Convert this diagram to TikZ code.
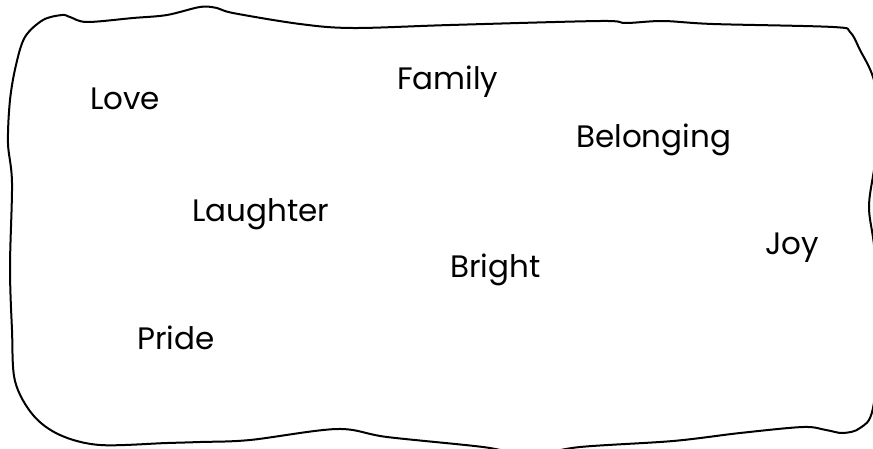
\documentclass[tikz,border=0pt]{standalone}
\usepackage{fontspec}
\setmainfont{Poppins}
\begin{document}
\begin{tikzpicture}[x=1pt,y=-1pt,
  word/.style={anchor=base west,inner sep=0pt,font=\fontsize{31}{33}\selectfont}]
\useasboundingbox (0,0) rectangle (873,448);
\fill[white] (0,0) rectangle (873,448);
\begin{scope}
\clip (0,0) rectangle (873,448);
\draw[line width=2pt,line join=round] plot[smooth cycle,tension=0.55] coordinates {
(10,100) (16,65) (25,37) (43,20) (62,15) (70,17) (87,22) (133,18) (167,15)
(200,7) (217,8) (233,13) (300,24) (353,28) (450,25) (600,21) (626,23) (663,21)
(713,24) (833,27) (850,32) (860,50) (873,77) (882,120) (874,170) (869,207)
(874,245) (882,320) (873,408) (860,428) (843,433) (826,430) (803,427) (740,433)
(673,441) (580,447) (530,455) (483,447) (387,437) (337,429) (250,440) (200,442)
(167,443) (100,445) (60,435) (33,415) (15,381) (12,330) (10,267) (12,183) (8,143)};
\end{scope}
\node[word] (love) at (90,109) {Love};
\node[word] (family) at (397,89) {Family};
\node[word] (belonging) at (576,147) {Belonging};
\node[word] (laughter) at (192,221) {Laughter};
\node[word] (bright) at (450,277) {Bright};
\node[word] (joy) at (765,254) {Joy};
\node[word] (pride) at (137,349) {Pride};
\end{tikzpicture}
\end{document}
